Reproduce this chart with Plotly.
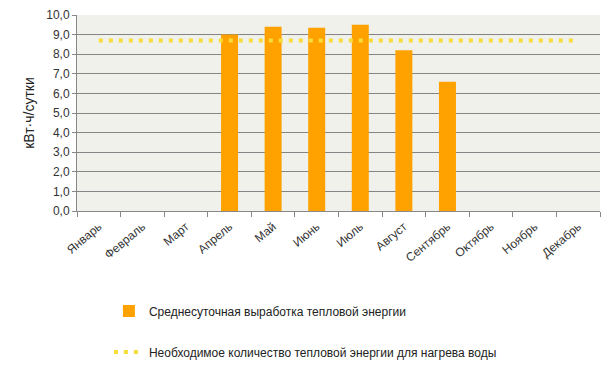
import plotly.graph_objects as go

months = ["Январь", "Февраль", "Март", "Апрель", "Май", "Июнь", "Июль",
          "Август", "Сентябрь", "Октябрь", "Ноябрь", "Декабрь"]
daily_output = [None, None, None, 9.0, 9.4, 9.35, 9.5, 8.2, 6.6, None, None, None]
required_heat = [8.7, 8.7, 8.7, 8.7, 8.7, 8.7, 8.7, 8.7, 8.7, 8.7, 8.7, 8.7]
y_ticks = [0, 1, 2, 3, 4, 5, 6, 7, 8, 9, 10]

FONT = "Liberation Sans"

fig = go.Figure()
fig.add_trace(go.Bar(
    x=months, y=daily_output, name="Среднесуточная выработка тепловой энергии",
    marker=dict(color="#FFA200", line=dict(width=0)), width=0.39,
    legend="legend", showlegend=True,
))
fig.add_trace(go.Scatter(
    x=months, y=required_heat, mode="lines",
    name="Необходимое количество тепловой энергии для нагрева воды",
    line=dict(color="#F7DC3A", width=4, dash="4px,6px"),
    legend="legend2", showlegend=True,
))

fig.update_layout(
    width=604, height=362,
    margin=dict(l=69, r=12, t=7, b=159, autoexpand=False),
    paper_bgcolor="white", plot_bgcolor="#EFF1EA",
    separators=", ",
    showlegend=True,
    font=dict(family=FONT, size=11, color="#333333"),
    legend=dict(x=0.061, y=-0.51, xanchor="left", yanchor="middle",
                bgcolor="rgba(0,0,0,0)",
                font=dict(family=FONT, size=12, color="#222222")),
    legend2=dict(x=0.061, y=-0.72, xanchor="left", yanchor="middle",
                 bgcolor="rgba(0,0,0,0)",
                 font=dict(family=FONT, size=12, color="#222222")),
)
fig.update_xaxes(
    type="category", tickangle=-40, showgrid=False,
    showline=True, linecolor="#888888", linewidth=1,
    ticks="outside", tickson="boundaries", ticklen=5, tickcolor="#888888",
    ticklabelstandoff=3,
    tickfont=dict(family=FONT, size=12, color="#333333"),
)
fig.update_yaxes(
    range=[0, 10], tickvals=y_ticks, tickformat=".1f",
    showgrid=True, gridcolor="#858585", gridwidth=1,
    showline=True, linecolor="#888888", linewidth=1,
    ticks="outside", ticklen=4, tickcolor="#888888",
    zeroline=False, ticklabeloverflow="allow",
    title=dict(text="кВт·ч/сутки", font=dict(family=FONT, size=14, color="#222222"), standoff=8),
    tickfont=dict(family=FONT, size=12, color="#333333"),
)

fig.write_html("out.html")
